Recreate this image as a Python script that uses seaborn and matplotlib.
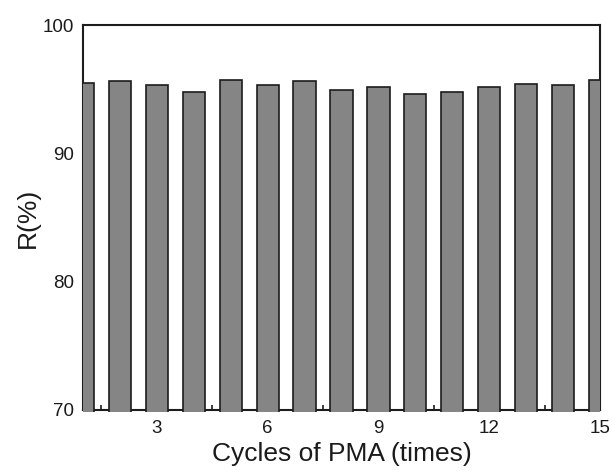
import matplotlib
matplotlib.use("Agg")
import matplotlib.pyplot as plt
from matplotlib.ticker import MultipleLocator
from matplotlib.transforms import Bbox, TransformedBbox
import seaborn as sns
import pandas as pd

# Removal ratio over repeated PMA cycles
cycles = list(range(1, 16))
removal = [95.5, 95.6, 95.3, 94.8, 95.7, 95.3, 95.6, 94.9, 95.2, 94.6,
           94.8, 95.2, 95.4, 95.3, 95.7]
x_ticks = [3, 6, 9, 12, 15]
y_ticks = [70, 80, 90, 100]

sns.set_theme(style="white")
plt.rcParams["font.family"] = ["Liberation Sans", "DejaVu Sans"]

df = pd.DataFrame({"cycle": cycles, "R": removal})

fig = plt.figure(figsize=(6.13, 4.72), dpi=100)
ax = fig.add_axes([0.1354, 0.1314, 0.8434, 0.8156])

sns.barplot(data=df, x="cycle", y="R", native_scale=True, width=0.6,
            color="#858585", saturation=1, edgecolor="#1c1c1c",
            linewidth=1.2, ax=ax)

ax.set_xlim(1, 15)
ax.set_ylim(70, 100)

# bars sit over the bottom spine; still clipped at left/right/top
clip = TransformedBbox(Bbox.from_extents(1, 69.85, 15, 100), ax.transData)
for p in ax.patches:
    p.set_clip_path(None)
    p.set_clip_box(clip)
    p.set_zorder(5)

ax.set_xticks(x_ticks)
ax.set_xticklabels([str(t) for t in x_ticks])
ax.xaxis.set_minor_locator(MultipleLocator(1.5))
ax.set_yticks(y_ticks)
ax.tick_params(axis="both", which="major", direction="in", length=5,
               width=1.2, color="#1c1c1c", labelsize=13.5, labelcolor="#1a1a1a")
ax.tick_params(axis="x", which="major", pad=7, bottom=True)
ax.tick_params(axis="y", which="major", pad=6.5, left=True)
ax.tick_params(axis="x", which="minor", direction="in", length=3.5,
               width=1.2, color="#1c1c1c", bottom=True)

for s in ax.spines.values():
    s.set_visible(True)
    s.set_color("#1c1c1c")
    s.set_linewidth(1.5)
    s.set_zorder(1)

ax.set_xlabel("Cycles of PMA (times)", fontsize=19, color="#1a1a1a", labelpad=4)
ax.set_ylabel("R(%)", fontsize=19, color="#1a1a1a", labelpad=2)

fig.savefig("out.png", dpi=100)
